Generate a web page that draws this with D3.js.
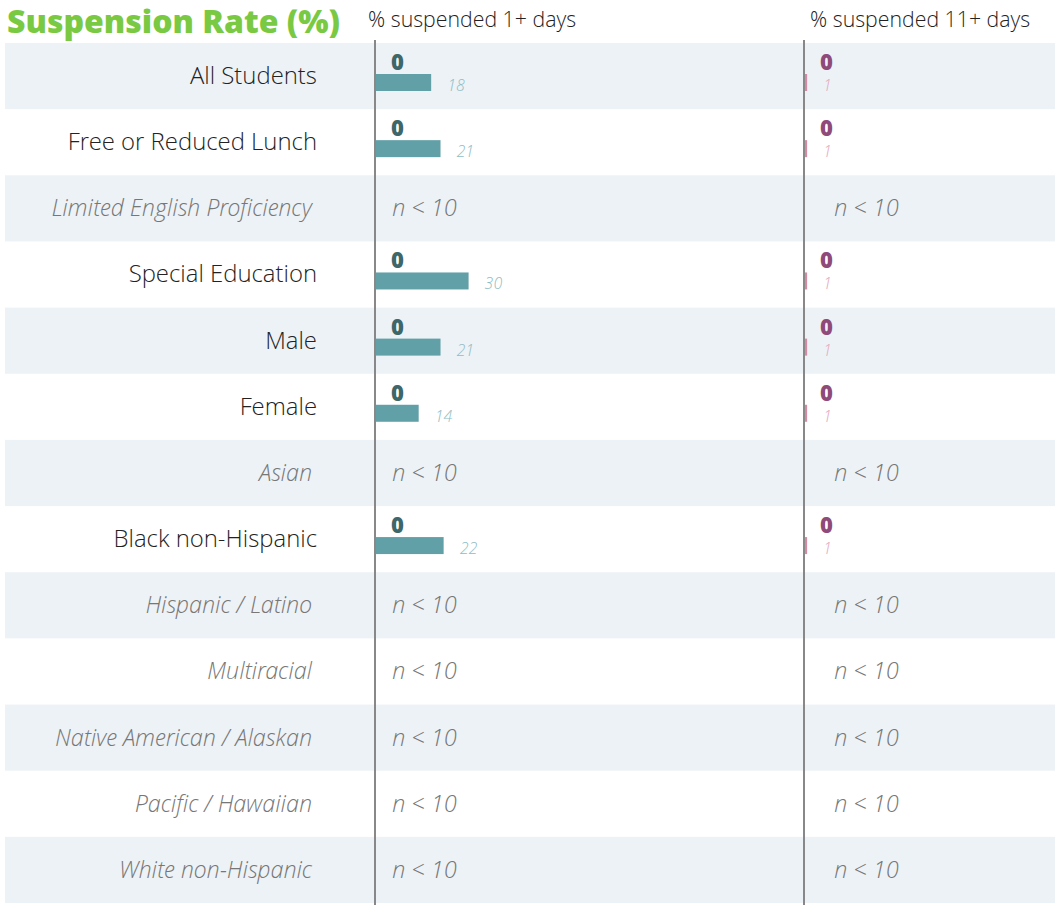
<!DOCTYPE html>
<html>
<head>
<meta charset="utf-8">
<script src="https://cdn.jsdelivr.net/npm/d3@7"></script>
<style>
  body { margin: 0; background: #fff; }
  svg { font-family: "Open Sans", sans-serif; }
  .light { font-family: "Open Sans Light", "Open Sans", sans-serif; font-weight: 300; }
</style>
</head>
<body>
<svg width="1063" height="905"></svg>
<script>
var groups = ['All Students', 'Free or Reduced Lunch', 'Limited English Proficiency',
    'Special Education', 'Male', 'Female', 'Asian', 'Black non-Hispanic',
    'Hispanic / Latino', 'Multiracial', 'Native American / Alaskan',
    'Pacific / Hawaiian', 'White non-Hispanic']

// null = n < 10
var rate1 = [0, 0, null, 0, 0, 0, null, 0, null, null, null, null, null]
var comp1 = [18, 21, null, 30, 21, 14, null, 22, null, null, null, null, null]
var rate11 = [0, 0, null, 0, 0, 0, null, 0, null, null, null, null, null]
var comp11 = [1, 1, null, 1, 1, 1, null, 1, null, null, null, null, null]

var headers = ['% suspended 1+ days', '% suspended 11+ days']

var svg = d3.select('svg')

var y = d3.scaleBand()
    .domain(groups)
    .range([43, 903])

var x = d3.scaleLinear()
    .domain([0, 100])
    .range([0, 312])

var panels = [
    { x0: 375, rate: rate1, comp: comp1, dark: '#3d6768', bar: '#62a0a8', light: '#8fbdc4', nx: 392, hx: 368 },
    { x0: 804, rate: rate11, comp: comp11, dark: '#8f4a7a', bar: '#d48aa4', light: '#e3a9bd', nx: 834, hx: 810 }
]

// stripes
svg.selectAll('.stripe')
    .data(groups.filter((g, i) => i % 2 == 0))
    .enter()
    .append('rect')
    .attr('x', 5)
    .attr('width', 1050)
    .attr('y', d => y(d))
    .attr('height', y.bandwidth())
    .style('fill', '#edf2f6')

// title
svg.append('text')
    .attr('x', 7)
    .attr('y', 33)
    .style('font-size', '32px')
    .style('font-weight', 800)
    .style('fill', '#7ac943')
    .text('Suspension Rate (%)')

// group labels
svg.selectAll('.label')
    .data(groups)
    .enter()
    .append('text')
    .attr('class', 'light')
    .attr('text-anchor', 'end')
    .attr('x', (d, i) => rate1[i] == null ? 312 : 317)
    .attr('y', d => y(d) + 41)
    .style('font-size', (d, i) => rate1[i] == null ? '23.4px' : '23.9px')
    .style('font-style', (d, i) => rate1[i] == null ? 'italic' : 'normal')
    .style('fill', (d, i) => rate1[i] == null ? '#777' : '#222')
    .text(d => d)

panels.forEach((p, k) => {
    var g = svg.append('g')

    g.append('text')
        .attr('class', 'light')
        .attr('x', p.hx)
        .attr('y', 27)
        .style('font-size', '21.3px')
        .style('fill', '#222')
        .text(headers[k])

    groups.forEach((name, i) => {
        var top = y(name)
        if (p.rate[i] == null) {
            g.append('text')
                .attr('class', 'light')
                .attr('x', p.nx)
                .attr('y', top + 41)
                .style('font-size', '23.8px')
                .style('font-style', 'italic')
                .style('fill', '#777')
                .text('n < 10')
            return
        }
        g.append('text')
            .attr('x', p.x0 + 16 + x(p.rate[i]))
            .attr('y', top + 27)
            .style('font-size', '22px')
            .style('font-weight', 800)
            .style('fill', p.dark)
            .text(p.rate[i])
        g.append('rect')
            .attr('x', p.x0)
            .attr('y', top + 31)
            .attr('width', x(p.comp[i]))
            .attr('height', 17)
            .style('fill', p.bar)
        g.append('text')
            .attr('class', 'light')
            .attr('x', p.x0 + x(p.comp[i]) + 16)
            .attr('y', top + 48)
            .style('font-size', '16px')
            .style('font-style', 'italic')
            .style('fill', p.light)
            .text(p.comp[i])
    })

    g.append('line')
        .attr('x1', p.x0)
        .attr('x2', p.x0)
        .attr('y1', 40)
        .attr('y2', 905)
        .style('stroke', '#888')
        .style('stroke-width', 2)
})
</script>
</body>
</html>
